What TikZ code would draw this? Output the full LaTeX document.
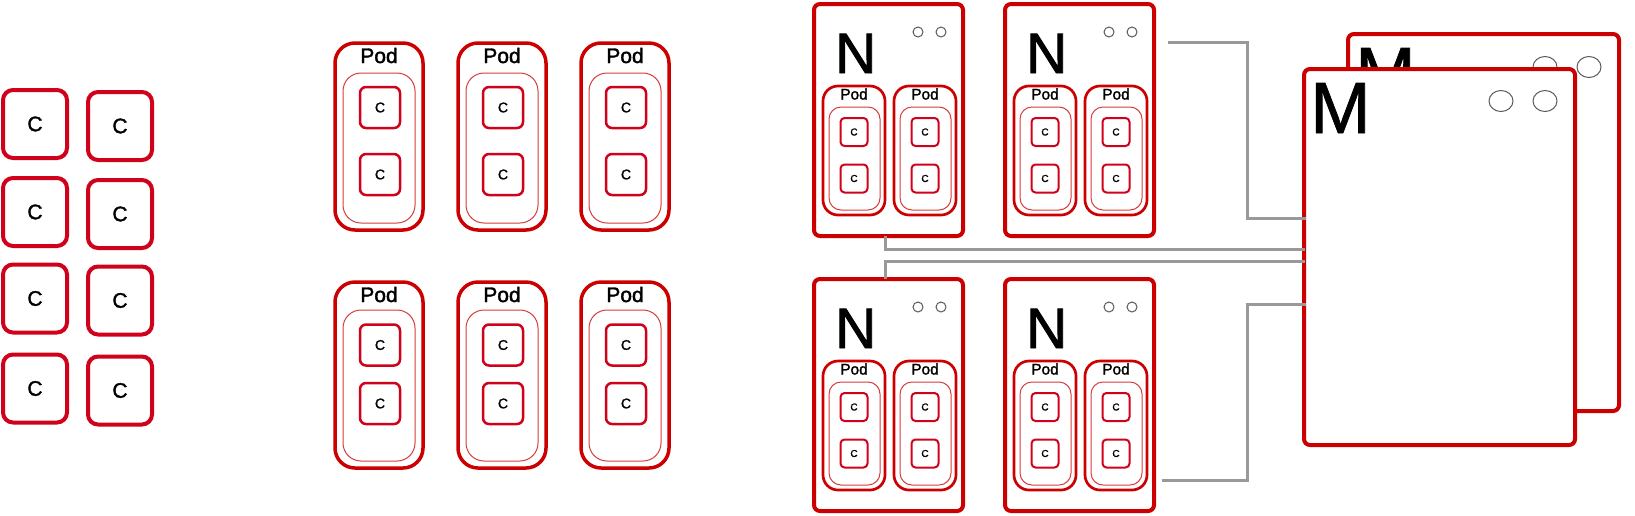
\documentclass[tikz,border=0pt]{standalone}
\usepackage{fontspec}
\setmainfont{Liberation Sans}
\newfontfamily\heavyfont{Liberation Sans}[FakeBold=1.6]
\newfontfamily\midfont{Liberation Sans}[FakeBold=1.1]
\usetikzlibrary{shapes.geometric}
\definecolor{kred}{RGB}{204,0,0}
\definecolor{cred}{RGB}{208,2,27}
\definecolor{thinred}{RGB}{215,60,60}
\definecolor{wiregray}{RGB}{153,153,153}
\definecolor{dotgray}{RGB}{90,90,90}
\tikzset{
  box/.style={draw, rectangle, inner sep=0pt, outer sep=0pt},
  bigc/.style={box, draw=cred, line width=4pt, rounded corners=10pt, minimum width=64pt, minimum height=68pt, font=\heavyfont\fontsize{21}{21}\selectfont},
  podouter/.style={box, draw=kred, line width=3.5pt, rounded corners=20pt, minimum width=88pt, fill=white},
  podinner/.style={box, draw=thinred, line width=1pt, rounded corners=18pt},
  podlab/.style={inner sep=0pt, font=\heavyfont\fontsize{21}{21}\selectfont},
  midc/.style={box, draw=cred, line width=2.5pt, rounded corners=6pt, minimum width=40pt, minimum height=41pt, font=\heavyfont\fontsize{14}{14}\selectfont},
  nbox/.style={box, draw=kred, line width=4pt, rounded corners=6pt, fill=white},
  nlab/.style={inner sep=0pt, font=\heavyfont\fontsize{57}{57}\selectfont},
  dot/.style={draw=dotgray, circle, line width=1pt, minimum size=10pt, inner sep=0pt},
  npod/.style={box, draw=kred, line width=2.7pt, rounded corners=15pt},
  npinner/.style={box, draw=thinred, line width=1pt, rounded corners=12pt},
  nplab/.style={inner sep=0pt, font=\heavyfont\fontsize{15.4}{15.4}\selectfont},
  smallc/.style={box, draw=cred, line width=2pt, rounded corners=4pt, minimum width=27pt, minimum height=28pt, font=\heavyfont\fontsize{10}{10}\selectfont},
  mbox/.style={box, draw=kred, line width=4pt, rounded corners=6pt, fill=white, minimum width=271pt, minimum height=376pt},
  mlab/.style={inner sep=0pt, font=\midfont\fontsize{72.6}{72.6}\selectfont},
  mdot/.style={draw=dotgray, ellipse, line width=1pt, minimum width=24pt, minimum height=21pt, inner sep=0pt},
  wire/.style={draw=wiregray, line width=3pt}
}
\begin{document}
\begin{tikzpicture}[x=1pt, y=-1pt]
\path[use as bounding box, fill=white] (0,0) rectangle (1635,515);

% left containers
\foreach \cy [count=\r] in {124,212,298.5,388.5} {
  \node[bigc] (lc\r-1) at (35,\cy) {C};
  \node[bigc] (lc\r-2) at (120,\cy+2) {C};
}

% middle pods, top row
\foreach \cx [count=\i] in {379,502,625} {
  \node[podouter, minimum height=187pt] (pt\i) at (\cx,136.5) {};
  \node[podlab, anchor=base] (ptl\i) at (\cx,63) {Pod};
  \node[podinner, minimum width=72pt, minimum height=150pt] (pti\i) at (\cx,148) {};
  \node[midc] (ptc\i-a) at (\cx+1,107.5) {C};
  \node[midc] (ptc\i-b) at (\cx+1,174.5) {C};
}
% middle pods, bottom row
\foreach \cx [count=\i] in {379,502,625} {
  \node[podouter, minimum height=186pt] (pb\i) at (\cx,375) {};
  \node[podlab, anchor=base] (pbl\i) at (\cx,302) {Pod};
  \node[podinner, minimum width=72pt, minimum height=151pt] (pbi\i) at (\cx,385.5) {};
  \node[midc] (pbc\i-a) at (\cx+1,345) {C};
  \node[midc] (pbc\i-b) at (\cx+1,403.5) {C};
}

% nodes
\foreach \L/\T [count=\k] in {812/2,1003/2,812/277,1003/277} {
  \node[nbox, minimum width=149pt, minimum height=232pt] (n\k) at (\L+76.5,\T+118) {};
  \node[nlab, anchor=base west] (nl\k) at (\L+23,\T+71) {N};
  \node[dot] (nd\k-1) at (\L+106,\T+30) {};
  \node[dot] (nd\k-2) at (\L+129,\T+30) {};
  \foreach \px [count=\j] in {42,113} {
    \node[npod, minimum width=62pt, minimum height=129pt] (np\k-\j) at (\L+\px,\T+148.5) {};
    \node[nplab, anchor=base] (npl\k-\j) at (\L+\px,\T+97.5) {Pod};
    \node[npinner, minimum width=51pt, minimum height=103pt] (npi\k-\j) at (\L+\px+0.5,\T+156.5) {};
    \node[smallc] (npc\k-\j-a) at (\L+\px,\T+130) {C};
    \node[smallc] (npc\k-\j-b) at (\L+\px,\T+176.5) {C};
  }
}

% masters
\node[mbox, minimum height=377pt] (mb) at (1483.5,222.5) {};
\node[mlab, anchor=base west] (mbl) at (1355,98) {M};
\node[mdot] (mbd1) at (1545,67) {};
\node[mdot] (mbd2) at (1589,67) {};
\node[mbox] (mf) at (1439.5,257) {};
\node[mlab, anchor=base west] (mfl) at (1310,133) {M};
\node[mdot] (mfd1) at (1501,101) {};
\node[mdot] (mfd2) at (1545,101) {};

% wires
\coordinate (g1s) at (1168,42);
\coordinate (g4e) at (1162,480);
\draw[wire] (g1s) -| (1247,218) -- ([xshift=2pt]mf.west |- 0,218);
\draw[wire] ([xshift=-3.5pt]n1.south) |- ([xshift=1pt]mf.west |- 0,249);
\draw[wire] ([xshift=-3.5pt]n3.north) |- ([xshift=1pt]mf.west |- 0,261);
\draw[wire] ([xshift=2pt]mf.west |- 0,304) -| (1247,480) -- (g4e);
\end{tikzpicture}
\end{document}
